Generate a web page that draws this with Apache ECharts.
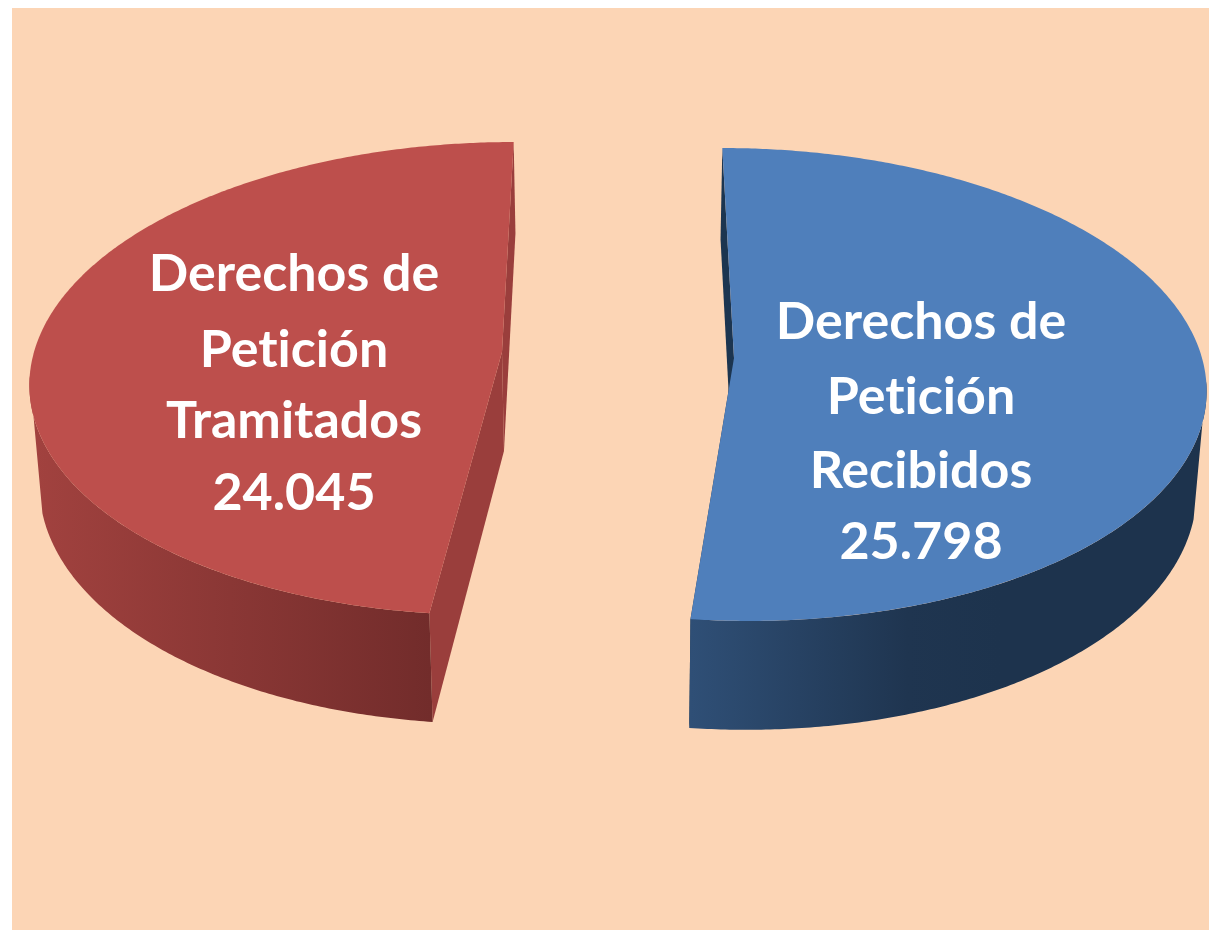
<!DOCTYPE html>
<html>
<head>
<meta charset="utf-8">
<style>html,body{margin:0;padding:0;background:#fff}#c{width:1209px;height:930px}</style>
<script src="https://cdn.jsdelivr.net/npm/echarts@6/dist/echarts.min.js"></script>
</head>
<body>
<div id="c"></div>
<script>
var categories = ['Derechos de Petición Recibidos', 'Derechos de Petición Tramitados'];
var labelLines = [['Derechos de', 'Petición', 'Recibidos'], ['Derechos de', 'Petición', 'Tramitados']];
var values = [25798, 24045];
var valueLabels = ['25.798', '24.045'];

var total = values[0] + values[1];
// Perspective camera shared by both exploded slices
var view = {xc: 618, rx: 468, ry: 233.5, k: 0.112, depth: 100, lowScaleX: 0.983, lowScaleY: 0.99};
// rim positions where the side wall's silhouette leaves the top and meets the bottom rim
var rimTop = 0.1, rimLow = 0.25;
var looks = [
  {ax: 116, ay: 358, top: '#4F7FBB', cut: '#1C3550',
   grad: {x: 691, x2: 1000, stops: [[0, '#2F4F76'], [0.7, '#1F3550'], [1, '#1D334D']]},
   textX: 921, textY: [322, 397, 471, 542]},
  {ax: -116, ay: 352, top: '#BD4F4C', cut: '#9A3E3C',
   grad: {x: 30, x2: 431, stops: [[0, '#A2423F'], [1, '#722C2B']]},
   textX: 294, textY: [274, 350, 421, 493]}
];

function project(L, a, low) {
  var u = Math.sin(a), v = -Math.cos(a);
  var w = 1 - view.k * v;
  return [
    view.xc + (low ? view.lowScaleX : 1) * (L.ax + view.rx * u) / w,
    L.ay + (low ? view.lowScaleY : 1) * (view.ry * v + (low ? view.depth : 0)) / w
  ];
}
function apex(L, low) {
  return [view.xc + (low ? view.lowScaleX : 1) * L.ax,
          L.ay + (low ? view.lowScaleY * view.depth : 0)];
}
function arc(L, a0, a1, low) {
  var pts = [], n = Math.max(2, Math.ceil(Math.abs(a1 - a0) / (Math.PI / 360)));
  for (var i = 0; i <= n; i++) pts.push(project(L, a0 + (a1 - a0) * i / n, low));
  return pts;
}

function renderSlice(params, api) {
  var i = params.dataIndex, L = looks[i];
  var before = 0;
  for (var j = 0; j < i; j++) before += values[j];
  var a0 = before / total * 2 * Math.PI;
  var a1 = a0 + api.value(0) / total * 2 * Math.PI;
  var children = [];

  function poly(points, fill) {
    children.push({type: 'polygon', shape: {points: points}, style: {fill: fill, stroke: null}, silent: true});
  }
  // cut faces
  [a0, a1].forEach(function (a) {
    poly([apex(L, false), project(L, a, false), project(L, a, true), apex(L, true)], L.cut);
  });
  // outer wall: front part of the rim, joined by the tangent silhouette line
  var tTop = Math.asin(rimTop), tLow = Math.asin(rimLow);
  var topA0 = Math.max(a0, Math.PI / 2 + tTop), topA1 = Math.min(a1, 1.5 * Math.PI - tTop);
  var lowA0 = Math.max(a0, Math.PI / 2 + tLow), lowA1 = Math.min(a1, 1.5 * Math.PI - tLow);
  var wall = arc(L, topA0, topA1, false).concat(arc(L, lowA1, lowA0, true));
  poly(wall, {type: 'linear', x: L.grad.x, y: 0, x2: L.grad.x2, y2: 0, global: true,
    colorStops: L.grad.stops.map(function (s) { return {offset: s[0], color: s[1]}; })});
  // top face
  poly([apex(L, false)].concat(arc(L, a0, a1, false)), L.top);
  // text
  labelLines[i].concat([valueLabels[i]]).forEach(function (t, n) {
    children.push({type: 'text', silent: true, style: {
      text: t, x: L.textX, y: L.textY[n], fill: '#fff', align: 'center', verticalAlign: 'middle',
      font: 'bold 52px Lato, "Open Sans", sans-serif'
    }});
  });
  return {type: 'group', children: children};
}

var chart = echarts.init(document.getElementById('c'), null, {renderer: 'canvas'});
// The reference font has no "ti" ligature
try { chart.getZr().painter.getLayer(0).ctx.textRendering = 'optimizeSpeed'; } catch (e) {}
chart.setOption({
  animation: false,
  backgroundColor: '#fff',
  graphic: [{type: 'rect', z: -1, silent: true, shape: {x: 12, y: 8, width: 1197, height: 922}, style: {fill: '#FCD5B5'}}],
  series: [{
    type: 'custom', coordinateSystem: 'none', silent: true, z: 2,
    renderItem: renderSlice,
    data: values.map(function (v, i) { return {name: categories[i], value: [v]}; })
  }]
});
</script>
</body>
</html>
